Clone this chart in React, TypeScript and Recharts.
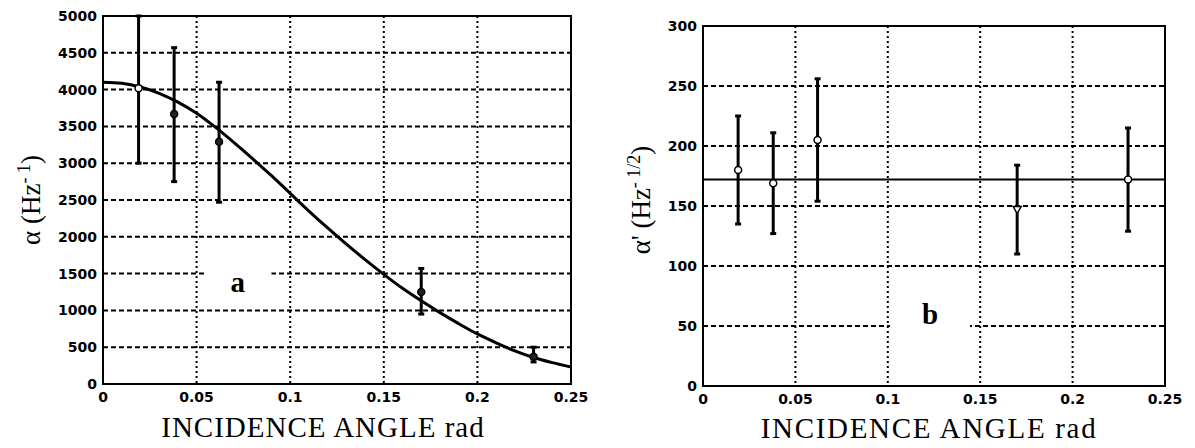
import {
  ComposedChart,
  Scatter,
  Line,
  XAxis,
  YAxis,
  CartesianGrid,
  ErrorBar,
  ReferenceArea,
  ReferenceLine,
} from "recharts";

// measured points (same incidence angles in both panels)
const angles = [0.019, 0.038, 0.062, 0.17, 0.23];

// panel a
const alphaValues = [4020, 3670, 3290, 1250, 370];
const alphaErrLow = [1020, 920, 820, 300, 70];
const alphaErrHigh = [980, 900, 810, 320, 130];

// fitted curve of panel a
const fitAngles = [
  0, 0.01, 0.02, 0.03, 0.04, 0.05, 0.06, 0.07, 0.08, 0.09, 0.1, 0.11, 0.12,
  0.13, 0.14, 0.15, 0.16, 0.17, 0.18, 0.19, 0.2, 0.21, 0.22, 0.23, 0.24, 0.25,
];
const fitAlpha = [
  4100, 4085, 4035, 3950, 3830, 3680, 3490, 3280, 3060, 2830, 2590, 2350, 2120,
  1900, 1690, 1490, 1300, 1130, 970, 820, 680, 560, 450, 360, 290, 230,
];

// panel b
const alphaPrimeValues = [180, 169, 205, 147, 172];
const alphaPrimeErr = [45, 42, 51, 37, 43];
const fitLevel = 172;

const angleTicks = [0, 0.05, 0.1, 0.15, 0.2, 0.25];
const alphaTicks = [0, 500, 1000, 1500, 2000, 2500, 3000, 3500, 4000, 4500, 5000];
const alphaPrimeTicks = [0, 50, 100, 150, 200, 250, 300];

const leftPoints = angles.map((x, i) => ({
  x,
  y: alphaValues[i],
  err: [alphaErrLow[i], alphaErrHigh[i]],
}));
const leftCurve = fitAngles.map((x, i) => ({ x, y: fitAlpha[i] }));
const rightPoints = angles.map((x, i) => ({
  x,
  y: alphaPrimeValues[i],
  err: alphaPrimeErr[i],
}));

const leftFilled = [false, true, true, true, true];
const rightTriangle = [false, false, false, true, false];

const tickStyle = { fill: "#000", fontSize: 14, fontWeight: "bold", fontFamily: "DejaVu Sans" };
const serif = "'Liberation Serif', 'Times New Roman', serif";

function LeftMarker(props: any) {
  const { cx, cy, index } = props;
  const filled = leftFilled[index ?? 0];
  return <circle cx={cx} cy={cy} r={3.5} fill={filled ? "#222" : "#fff"} stroke="#000" strokeWidth={1.5} />;
}

function RightMarker(props: any) {
  const { cx, cy, index } = props;
  if (rightTriangle[index ?? 0]) {
    return (
      <path
        d={`M${cx - 4},${cy - 3} L${cx + 4},${cy - 3} L${cx},${cy + 4} Z`}
        fill="#fff"
        stroke="#000"
        strokeWidth={1.5}
      />
    );
  }
  return <circle cx={cx} cy={cy} r={3.5} fill="#fff" stroke="#000" strokeWidth={1.5} />;
}

function LabelText(props: any) {
  const { viewBox, value } = props;
  const { x, y, width, height } = viewBox;
  return (
    <text
      x={x + width / 2}
      y={y + height / 2 + 9}
      textAnchor="middle"
      fontFamily={serif}
      fontWeight="bold"
      fontSize={29}
      fill="#000"
    >
      {value}
    </text>
  );
}

export default function App() {
  return (
    <div style={{ position: "absolute", left: 0, top: 0, width: 1195, height: 448, background: "#fff" }}>
      <div style={{ position: "absolute", left: 0, top: 0 }}>
        <ComposedChart width={595} height={448} margin={{ top: 16, right: 24, bottom: 34, left: 0 }}>
          <CartesianGrid vertical={false} stroke="#000" strokeWidth={2} strokeDasharray="5 3" />
          <CartesianGrid horizontal={false} stroke="#000" strokeWidth={2} strokeDasharray="2 3" />
          <XAxis
            type="number"
            dataKey="x"
            domain={[0, 0.25]}
            ticks={angleTicks}
            interval={0}
            allowDataOverflow
            axisLine={false}
            tickLine={false}
            tickSize={0}
            tickMargin={8}
            height={30}
            tick={tickStyle}
          />
          <YAxis
            type="number"
            dataKey="y"
            domain={[0, 5000]}
            ticks={alphaTicks}
            interval={0}
            allowDataOverflow
            axisLine={false}
            tickLine={false}
            tickSize={0}
            tickMargin={6}
            width={103}
            tick={tickStyle}
          />
          <ReferenceArea
            x1={0.054}
            x2={0.09}
            y1={1100}
            y2={1650}
            fill="#fff"
            fillOpacity={1}
            stroke="none"
            label={<LabelText value="a" />}
          />
          <Line
            data={leftCurve}
            dataKey="y"
            type="monotone"
            stroke="#000"
            strokeWidth={3}
            dot={false}
            isAnimationActive={false}
          />
          <Scatter data={leftPoints} dataKey="y" shape={<LeftMarker />} isAnimationActive={false}>
            <ErrorBar dataKey="err" direction="y" width={3} stroke="#000" strokeWidth={3} isAnimationActive={false} />
          </Scatter>
          <ReferenceArea x1={0} x2={0.25} y1={0} y2={5000} fill="none" stroke="#000" strokeWidth={2} />
        </ComposedChart>
      </div>

      <div style={{ position: "absolute", left: 600, top: 0 }}>
        <ComposedChart width={595} height={448} margin={{ top: 26, right: 30, bottom: 32, left: 0 }}>
          <CartesianGrid vertical={false} stroke="#000" strokeWidth={2} strokeDasharray="5 3" />
          <CartesianGrid horizontal={false} stroke="#000" strokeWidth={2} strokeDasharray="2 3" />
          <XAxis
            type="number"
            dataKey="x"
            domain={[0, 0.25]}
            ticks={angleTicks}
            interval={0}
            allowDataOverflow
            axisLine={false}
            tickLine={false}
            tickSize={0}
            tickMargin={8}
            height={30}
            tick={tickStyle}
          />
          <YAxis
            type="number"
            dataKey="y"
            domain={[0, 300]}
            ticks={alphaPrimeTicks}
            interval={0}
            allowDataOverflow
            axisLine={false}
            tickLine={false}
            tickSize={0}
            tickMargin={6}
            width={103}
            tick={tickStyle}
          />
          <ReferenceArea
            x1={0.1012}
            x2={0.1445}
            y1={30}
            y2={88}
            fill="#fff"
            fillOpacity={1}
            stroke="none"
            label={<LabelText value="b" />}
          />
          <ReferenceLine y={fitLevel} stroke="#000" strokeWidth={2} />
          <Scatter data={rightPoints} dataKey="y" shape={<RightMarker />} isAnimationActive={false}>
            <ErrorBar dataKey="err" direction="y" width={3} stroke="#000" strokeWidth={3} isAnimationActive={false} />
          </Scatter>
          <ReferenceArea x1={0} x2={0.25} y1={0} y2={300} fill="none" stroke="#000" strokeWidth={2} />
        </ComposedChart>
      </div>

      <svg
        width={1195}
        height={448}
        style={{ position: "absolute", left: 0, top: 0, pointerEvents: "none" }}
      >
        <text x={323} y={437} textAnchor="middle" fontFamily={serif} fontSize={29} letterSpacing={1} fill="#000">
          INCIDENCE ANGLE rad
        </text>
        <text x={929} y={438} textAnchor="middle" fontFamily={serif} fontSize={29} letterSpacing={1.7} fill="#000">
          INCIDENCE ANGLE rad
        </text>
        <text transform="translate(40,200) rotate(-90)" textAnchor="middle" fontFamily={serif} fontSize={27} fill="#000">
          α (Hz
          <tspan dy={-10} fontSize={18}>
            - 1
          </tspan>
          <tspan dy={10}>)</tspan>
        </text>
        <text transform="translate(650,200) rotate(-90)" textAnchor="middle" fontFamily={serif} fontSize={27} fill="#000">
          α' (Hz
          <tspan dy={-10} fontSize={18}>
            - 1/2
          </tspan>
          <tspan dy={10}>)</tspan>
        </text>
      </svg>
    </div>
  );
}
